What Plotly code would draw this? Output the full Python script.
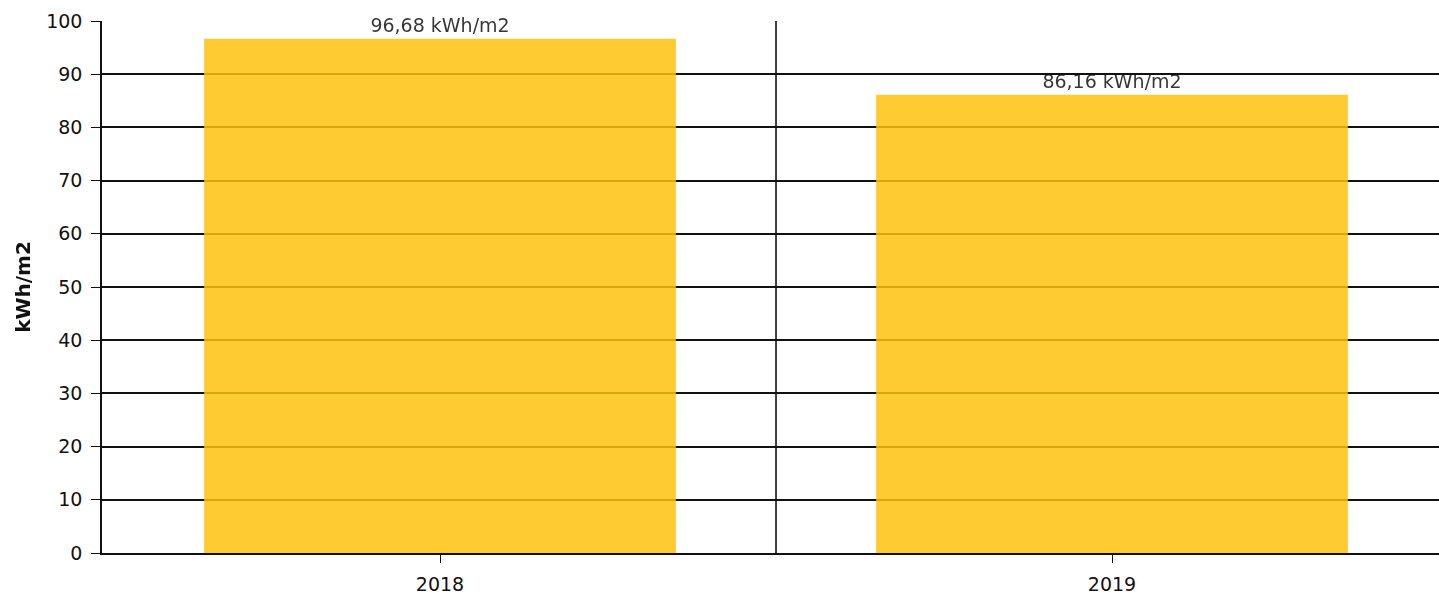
import plotly.graph_objects as go

categories = ["2018", "2019"]
values = [96.68, 86.16]
labels = ["96,68 kWh/m2", "86,16 kWh/m2"]
y_ticks = [0, 10, 20, 30, 40, 50, 60, 70, 80, 90, 100]

font_family = "DejaVu Sans, Verdana, sans-serif"

fig = go.Figure()
fig.add_trace(go.Bar(
    x=categories, y=values, text=labels, textposition="outside",
    marker=dict(color="rgb(254,194,15)", line=dict(width=0)),
    opacity=0.85,
    textfont=dict(family=font_family, size=19, color="#111"),
    cliponaxis=False, hoverinfo="skip",
))

shapes = []
for i in range(len(categories) - 1):
    shapes.append(dict(type="line", xref="x", yref="paper", x0=i + 0.5, x1=i + 0.5,
                       y0=0, y1=1, line=dict(color="#111", width=1.6), layer="below"))

fig.update_layout(
    width=1439, height=595,
    margin=dict(l=102, r=0, t=21, b=42, autoexpand=False),
    paper_bgcolor="white", plot_bgcolor="white",
    bargap=0.298, showlegend=False,
    font=dict(family=font_family, size=19, color="#111"),
    shapes=shapes,
    xaxis=dict(type="category", showgrid=False, showline=True, linecolor="#111", linewidth=1.6,
               ticks="outside", ticklen=8, tickcolor="#111", tickwidth=1,
               ticklabelstandoff=5,
               range=[-0.503, 1.4866], tickfont=dict(size=19)),
    yaxis=dict(range=[0, 100], tickvals=y_ticks, showgrid=True, gridcolor="#111", gridwidth=1.6,
               showline=True, linecolor="#111", linewidth=1.6, zeroline=False,
               ticks="outside", ticklen=9, tickcolor="#111",
               ticklabelstandoff=5,
               title=dict(text="<b>kWh/m2</b>", font=dict(size=20), standoff=10),
               tickfont=dict(size=19)),
)

fig.write_html("out.html", config={"displayModeBar": False},
               post_script="document.body.style.margin='0';document.body.style.overflow='hidden';")
